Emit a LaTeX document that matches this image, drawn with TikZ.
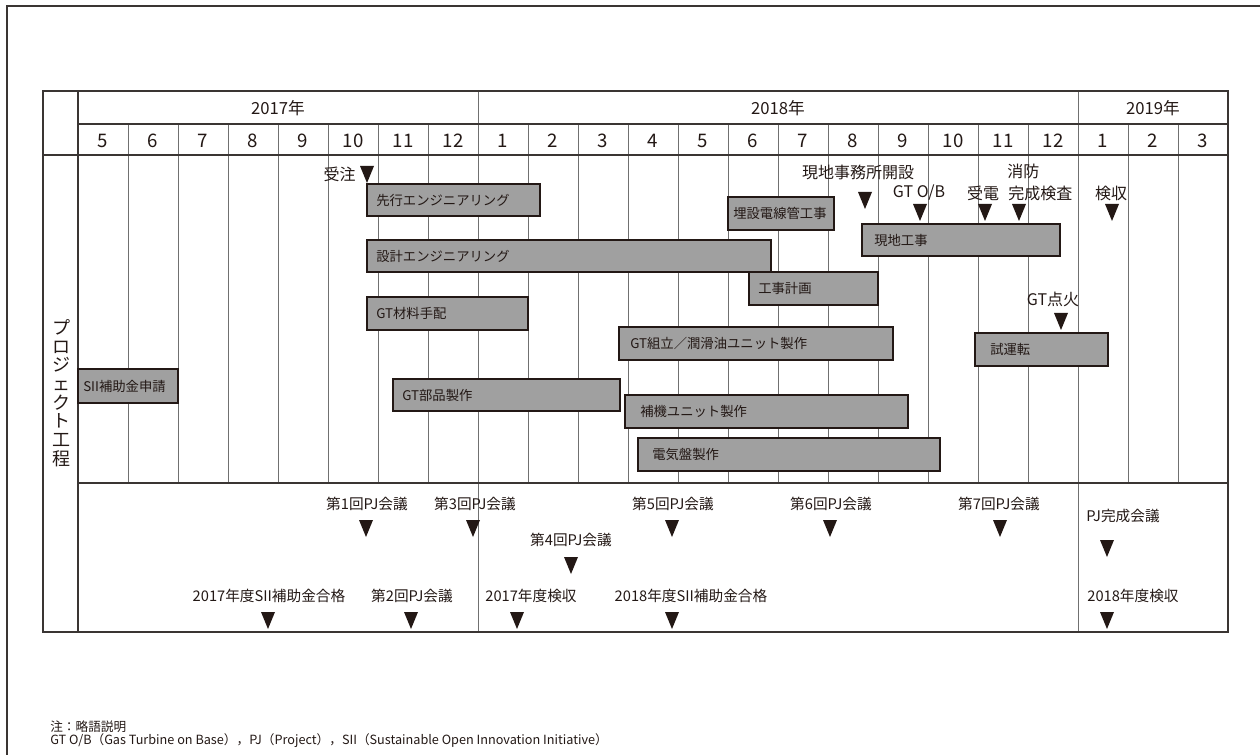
\documentclass[tikz,border=0pt]{standalone}
\usepackage{fontspec}
\setmainfont{Noto Sans CJK JP}
\usetikzlibrary{positioning}
\definecolor{gline}{HTML}{707070}
\definecolor{tline}{HTML}{3A3533}
\definecolor{gbar}{HTML}{A0A0A0}
\definecolor{gink}{HTML}{231815}
\tikzset{
  grid/.style={draw=gline,line width=0.7pt},
  frame/.style={draw=tline,line width=1.1pt},
  bar/.style={draw=gink,fill=gbar,line width=1pt},
  bartxt/.style={anchor=west,font=\fontsize{10}{12}\selectfont,text=gink,inner sep=0pt},
  ms/.style={font=\fontsize{12}{14}\selectfont,text=gink,inner sep=0pt},
  mt/.style={font=\fontsize{11}{13}\selectfont,text=gink,inner sep=0pt},
  mon/.style={font=\fontsize{14}{16}\selectfont,text=gink,inner sep=0pt},
  yr/.style={font=\fontsize{12.5}{14}\selectfont,text=gink,inner sep=0pt},
  tri/.pic={\fill[gink] (-7,0) -- (7,0) -- (0,17) -- cycle;},
}

\begin{document}
\begin{tikzpicture}[x=0.75pt,y=-0.75pt]
  \useasboundingbox (0,0) rectangle (1260,755);
  % outer frame
  \draw[tline,line width=0.8pt] (7,755) -- (7,6) -- (1260,6);
  % table grid
  \foreach \i in {1,...,7,9,10,...,19,21,22} { \draw[grid] (78+50*\i,124) -- (78+50*\i,483); }
  \draw[grid] (478,91) -- (478,632) (1078,91) -- (1078,632);
  \draw[frame] (78,124) -- (1228,124) (43,155) -- (1228,155) (78,483) -- (1228,483) (78,91) -- (78,632);
  \draw[frame] (43,91) rectangle (1228,632);
  % years and months
  \node[yr] (y17) at (278,108) {2017年};
  \node[yr] (y18) at (778,108) {2018年};
  \node[yr] (y19) at (1153,108) {2019年};
  \foreach \m [count=\i from 0] in {5,6,7,8,9,10,11,12,1,2,3,4,5,6,7,8,9,10,11,12,1,2,3} {
    \node[mon] (m\i) at (103+50*\i,141) {\m};
  }
  \node[font=\fontsize{13.5}{14}\selectfont,text=gink,align=center,inner sep=0pt] (lab) at (61,393) {プ\\ロ\\ジ\\ェ\\ク\\ト\\工\\程};
  % bars
  \foreach \xa/\ya/\xb/\yb/\pad/\txt [count=\i] in {
    78/369/178/403/5/{SII補助金申請},
    367/184/540/216/9/{先行エンジニアリング},
    367/240/771/272/9/{設計エンジニアリング},
    367/297/528/330/9/{GT材料手配},
    393/379/620/411/9/{GT部品製作},
    728/197/834/230/5/{埋設電線管工事},
    749/272/878/305/9/{工事計画},
    862/224/1060/256/12/{現地工事},
    619/327/893/360/11/{GT組立／潤滑油ユニット製作},
    625/395/908/428/15/{補機ユニット製作},
    638/438/940/471/14/{電気盤製作},
    975/333/1108/366/15/{試運転}} {
    \draw[bar] (\xa,\ya) rectangle (\xb,\yb);
    \node[bartxt] (bar\i) at ({\xa+\pad},{(\ya+\yb)/2}) {\txt};
  }
  % milestones
  \node[ms,anchor=east] (juchu) at (356,174) {受注};
  \pic at (367,166) {tri};
  \node[ms] (jimusho) at (858,172) {現地事務所開設};
  \pic at (865,192) {tri};
  \node[ms] (gtob) at (919,193) {GT O/B};
  \pic at (920,204) {tri};
  \node[ms] (juden) at (983,193) {受電};
  \pic at (985,204) {tri};
  \node[ms,anchor=west] (shobo) at (1007,171) {消防};
  \node[ms,anchor=west] (kansei) at (1008,193) {完成検査};
  \pic at (1019,204) {tri};
  \node[ms] (kenshu) at (1111,193) {検収};
  \pic at (1112,204) {tri};
  \node[ms] (tenka) at (1053,299) {GT点火};
  \pic at (1061,313) {tri};
  % meetings
  \foreach \lx/\ly/\tx/\ty/\txt [count=\i] in {
    367/504/366/520/{第1回PJ会議},
    475/504/473/520/{第3回PJ会議},
    571/540/571/557/{第4回PJ会議},
    673/504/672/520/{第5回PJ会議},
    831/504/830/520/{第6回PJ会議},
    999/504/1000/520/{第7回PJ会議},
    1123/516/1107/540/{PJ完成会議},
    269/596/268/612/{2017年度SII補助金合格},
    412/596/411/612/{第2回PJ会議},
    531/596/517/612/{2017年度検収},
    691/596/672/612/{2018年度SII補助金合格},
    1133/596/1107/612/{2018年度検収}} {
    \node[mt] (pj\i) at (\lx,\ly) {\txt};
    \pic at (\tx,\ty) {tri};
  }
  % note
  \node[font=\fontsize{9.5}{11}\selectfont,text=gink,anchor=west,inner sep=0pt] (note1) at (50,727) {注：略語説明};
  \node[font=\fontsize{9.5}{11}\selectfont,text=gink,anchor=west,inner sep=0pt] (note2) at (50,741) {GT O/B（Gas Turbine on Base），PJ（Project），SII（Sustainable Open Innovation Initiative）};
\end{tikzpicture}
\end{document}
